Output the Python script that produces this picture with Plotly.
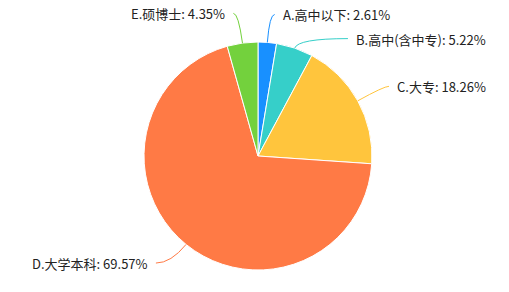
import math
import plotly.graph_objects as go

categories = ["A.高中以下", "B.高中(含中专)", "C.大专", "D.大学本科", "E.硕博士"]
values = [2.61, 5.22, 18.26, 69.57, 4.35]
colors = ["#1890FF", "#36CFC9", "#FFC53D", "#FF7A45", "#73D13D"]
# leader-line style per label: (radial length, horizontal length)
line_lengths = [(28, 5), (10, 50), (30, 5), (24, 15), (30, 5)]

W, H = 509, 292
cx, cy, R = 258, 156, 114

fig = go.Figure(go.Pie(
    labels=categories, values=values, sort=False, direction="clockwise", rotation=0,
    marker=dict(colors=colors, line=dict(color="white", width=1)),
    textinfo="none", hoverinfo="label+percent", showlegend=False,
    domain=dict(x=[(cx - R) / W, (cx + R) / W], y=[(H - cy - R) / H, (H - cy + R) / H]),
))

total = sum(values)
shapes, annotations = [], []
cum = 0.0
for cat, v, col, (l1, l2) in zip(categories, values, colors, line_lengths):
    mid = (cum + v / 2) / total * 2 * math.pi
    cum += v
    sx, sy = math.sin(mid), -math.cos(mid)
    p0 = (cx + R * sx, cy + R * sy)
    p1 = (cx + (R + l1) * sx, cy + (R + l1) * sy)
    side = 1 if sx >= 0 else -1
    p2 = (p1[0] + side * l2, p1[1])
    fx = lambda x: x / W
    fy = lambda y: 1 - y / H
    path = "M {:.5f},{:.5f} Q {:.5f},{:.5f} {:.5f},{:.5f}".format(
        fx(p0[0]), fy(p0[1]), fx(p1[0]), fy(p1[1]), fx(p2[0]), fy(p2[1]))
    shapes.append(dict(type="path", path=path, xref="paper", yref="paper",
                       line=dict(color=col, width=1)))
    annotations.append(dict(
        x=fx(p2[0] + side * 6), y=fy(p2[1] + 0.5), xref="paper", yref="paper",
        text="{}: {:.2f}%".format(cat, v), showarrow=False,
        xanchor="left" if side > 0 else "right", yanchor="middle",
        font=dict(size=13, color="#222222", family="Noto Sans CJK SC"),
    ))

fig.update_layout(
    width=W, height=H, autosize=False,
    margin=dict(l=0, r=0, t=0, b=0),
    paper_bgcolor="white", plot_bgcolor="white",
    shapes=shapes, annotations=annotations,
    font=dict(family="Noto Sans CJK SC"),
)
fig.write_html("out.html")
